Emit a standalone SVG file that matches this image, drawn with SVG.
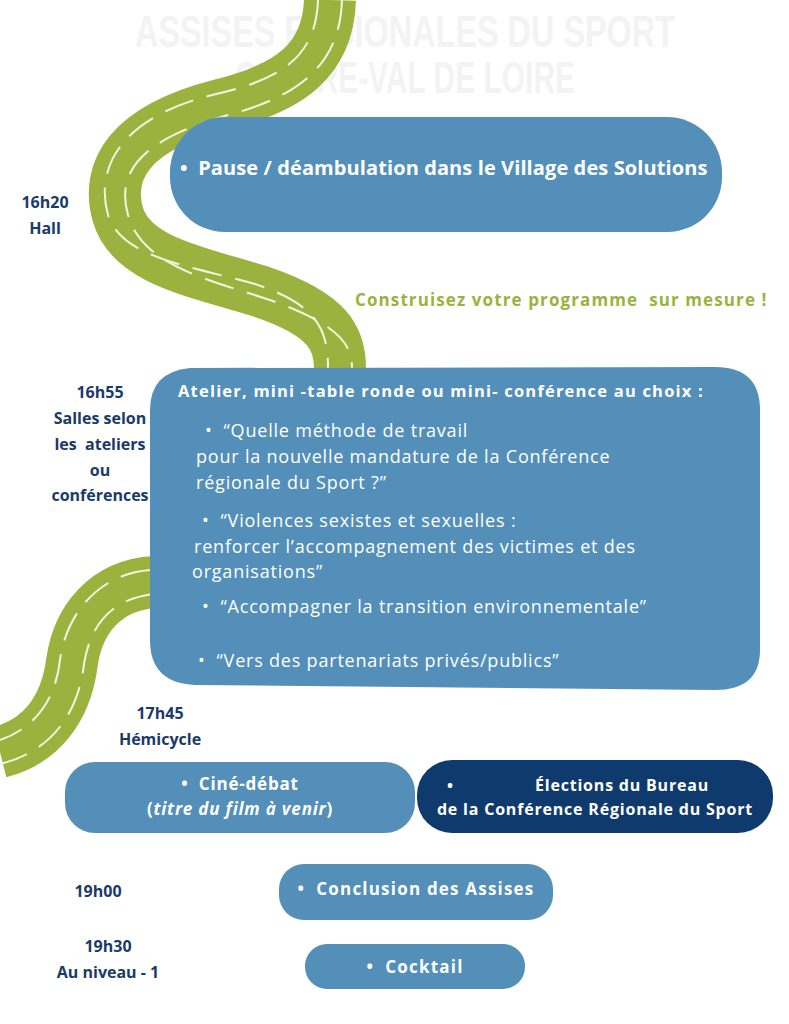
<svg xmlns="http://www.w3.org/2000/svg" width="789" height="1024" viewBox="0 0 789 1024">
<style>
text{white-space:pre}
.b{font-family:"Open Sans","Liberation Sans",sans-serif;font-weight:700;fill:#fff}
.r{font-family:"Open Sans","Liberation Sans",sans-serif;font-weight:400;fill:#fff;font-size:18px;letter-spacing:0.8px}
.t{font-family:"Open Sans","Liberation Sans",sans-serif;font-weight:700;fill:#1a3a6b;font-size:16px;text-anchor:middle}
.box{fill:#538fb9}
.road{fill:none;stroke:#9bb33e;stroke-width:52}
.lane{fill:none;stroke:#f4f4e0;stroke-width:2;stroke-dasharray:30 14}
</style>
<rect width="789" height="1024" fill="#fff"/>
<g id="title" font-family="Liberation Sans, sans-serif" font-weight="700" fill="#f3f3f3" text-anchor="middle">
<text x="405" y="47" font-size="44" textLength="540" lengthAdjust="spacingAndGlyphs">ASSISES RÉGIONALES DU SPORT</text>
<text x="405" y="93" font-size="44" textLength="340" lengthAdjust="spacingAndGlyphs">CENTRE-VAL DE LOIRE</text>
</g>
<g id="connectors">
<path class="road" d="M330,0 C328,60 290,88 220,105 C130,128 105,170 118,215 C132,262 200,272 262,292 C330,315 340,340 340,368"/>
<path class="lane" d="M318,0 C316,58 280,80 212,95 C120,118 95,168 108,215 C122,258 190,266 255,284 C318,305 328,330 328,368"/>
<path class="lane" d="M342,0 C340,64 300,96 228,115 C140,140 116,172 128,215 C142,266 210,280 270,300 C340,325 352,345 352,368"/>
<path class="road" d="M155,582 C105,585 78,620 72,662 C66,710 40,742 0,752"/>
<path class="lane" d="M150,570 C98,574 66,615 60,660 C55,705 30,730 0,740"/>
<path class="lane" d="M155,594 C112,598 90,625 84,664 C78,715 50,752 0,764"/>
</g>
<g id="n1"><rect class="box" x="170" y="117" width="552" height="115" rx="55"/>
<text class="b" x="180" y="175" font-size="20" letter-spacing="0.1">•  Pause / déambulation dans le Village des Solutions</text></g>
<g id="n2"><path class="box" d="M190,368 L715,367 Q760,367 760,410 L760,650 Q760,690 715,690 L195,685 Q150,683 150,640 L150,410 Q150,372 190,368 Z"/>
<text class="b" x="178" y="397" font-size="16.5" letter-spacing="1.2">Atelier, mini -table ronde ou mini- conférence au choix :</text>
<text class="r" x="205" y="437">•  “Quelle méthode de travail</text>
<text class="r" x="196" y="463">pour la nouvelle mandature de la Conférence</text>
<text class="r" x="196" y="489">régionale du Sport ?”</text>
<text class="r" x="202" y="527">•  “Violences sexistes et sexuelles :</text>
<text class="r" x="194" y="553">renforcer l’accompagnement des victimes et des</text>
<text class="r" x="192" y="578">organisations”</text>
<text class="r" x="202" y="613">•  “Accompagner la transition environnementale”</text>
<text class="r" x="198" y="667">•  “Vers des partenariats privés/publics”</text></g>
<text id="slogan" class="b" x="355" y="306" font-size="17" letter-spacing="1.1" style="fill:#9bb33e">Construisez votre programme  sur mesure !</text>
<g id="labels">
<text class="t" x="45" y="208">16h20</text><text class="t" x="45" y="234">Hall</text>
<text class="t" x="100" y="398">16h55</text><text class="t" x="100" y="424">Salles selon</text>
<text class="t" x="100" y="450">les  ateliers</text><text class="t" x="100" y="476">ou</text><text class="t" x="100" y="501">conférences</text>
<text class="t" x="160" y="719">17h45</text><text class="t" x="160" y="745">Hémicycle</text>
<text class="t" x="98" y="897">19h00</text>
<text class="t" x="108" y="952">19h30</text><text class="t" x="108" y="978">Au niveau - 1</text>
</g>
<g id="n3"><rect class="box" x="65" y="762" width="350" height="71" rx="30"/>
<text class="b" x="240" y="790" font-size="17" letter-spacing="0.8" text-anchor="middle">•  Ciné-débat</text>
<text class="b" x="240" y="815" font-size="17" letter-spacing="0.8" text-anchor="middle">(<tspan font-style="italic">titre du film à venir</tspan>)</text></g>
<g id="n4"><rect x="417" y="760" width="356" height="73" rx="35" fill="#0f3a6e"/>
<text class="b" x="447" y="791" font-size="16">•</text>
<text class="b" x="622" y="791" font-size="16" letter-spacing="0.8" text-anchor="middle">Élections du Bureau</text>
<text class="b" x="595" y="815" font-size="16" letter-spacing="0.8" text-anchor="middle">de la Conférence Régionale du Sport</text></g>
<g id="n5"><rect class="box" x="279" y="864" width="274" height="56" rx="25"/>
<text class="b" x="416" y="895" font-size="17" letter-spacing="1.2" text-anchor="middle">•  Conclusion des Assises</text></g>
<g id="n6"><rect class="box" x="305" y="944" width="220" height="45" rx="22"/>
<text class="b" x="415" y="973" font-size="17" letter-spacing="1.2" text-anchor="middle">•  Cocktail</text></g>
</svg>
